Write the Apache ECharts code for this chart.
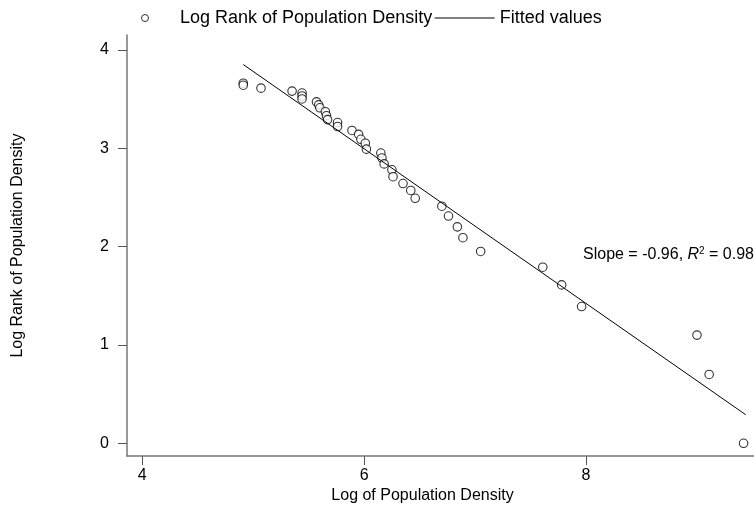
<!DOCTYPE html>
<html lang="en">
<head>
    <meta charset="UTF-8">
    <title>Log Rank vs Log Population Density</title>
    <script src="https://cdn.jsdelivr.net/npm/echarts@6/dist/echarts.min.js"></script>
    <style>
        html, body { margin: 0; padding: 0; background: #fff; }
        #chart { width: 754px; height: 509px; }
    </style>
</head>
<body>
    <div id="chart"></div>
    <script>
        // values
        const logDensity = [4.91, 4.91, 5.07, 5.35, 5.44, 5.44, 5.44, 5.57, 5.59, 5.60,
            5.65, 5.66, 5.67, 5.76, 5.76, 5.89, 5.95, 5.97, 6.01, 6.02,
            6.15, 6.16, 6.18, 6.25, 6.26, 6.35, 6.42, 6.46, 6.70, 6.76,
            6.84, 6.89, 7.05, 7.61, 7.78, 7.96, 9.00, 9.11, 9.42];
        const logRank = [3.66, 3.64, 3.61, 3.58, 3.56, 3.53, 3.50, 3.47, 3.44, 3.41,
            3.37, 3.33, 3.29, 3.26, 3.22, 3.18, 3.14, 3.09, 3.05, 2.99,
            2.95, 2.90, 2.84, 2.78, 2.71, 2.64, 2.57, 2.49, 2.41, 2.31,
            2.20, 2.09, 1.95, 1.79, 1.61, 1.39, 1.10, 0.70, 0.00];
        // fitted line end points
        const fitX = [4.91, 9.44];
        const fitY = [3.85, 0.29];
        const xTicks = [4, 6, 8];
        const yTicks = [0, 1, 2, 3, 4];

        const FONT = "'Liberation Sans', Arial, Helvetica, sans-serif";

        const chart = echarts.init(document.getElementById('chart'));

        const axisCommon = {
            type: 'value',
            nameLocation: 'middle',
            axisLine: { show: true, onZero: false, lineStyle: { color: '#777', width: 1.5 } },
            splitLine: { show: false }
        };

        const option = {
            animation: false,
            backgroundColor: '#fff',
            textStyle: { fontFamily: FONT },
            grid: { left: 127, right: 0, top: 35, bottom: 47 },
            legend: {
                left: 136,
                top: 4,
                itemWidth: 60,
                itemHeight: 7,
                itemGap: 2,
                textStyle: { fontFamily: FONT, fontSize: 18, color: '#000' },
                data: [
                    { name: 'Log Rank of Population Density', icon: 'circle',
                      itemStyle: { color: '#fff', borderColor: '#000', borderWidth: 1 } },
                    { name: 'Fitted values', itemStyle: { opacity: 0 },
                      lineStyle: { color: '#000', width: 1 } }
                ]
            },
            xAxis: Object.assign({}, axisCommon, {
                name: 'Log of Population Density',
                nameGap: 27,
                nameTextStyle: { fontFamily: FONT, fontSize: 16, color: '#000', padding: [0, 36, 0, 0] },
                min: 3.862,
                max: 9.514,
                axisTick: { show: true, length: 9, customValues: xTicks, lineStyle: { color: '#555' } },
                axisLabel: { customValues: xTicks, margin: 11, fontFamily: FONT, fontSize: 16, color: '#000' }
            }),
            yAxis: Object.assign({}, axisCommon, {
                name: 'Log Rank of Population Density',
                nameGap: 101,
                nameTextStyle: { fontFamily: FONT, fontSize: 16, color: '#000' },
                min: -0.13,
                max: 4.15,
                axisTick: { show: true, length: 9, customValues: yTicks, lineStyle: { color: '#555' } },
                axisLabel: { customValues: yTicks, margin: 18, fontFamily: FONT, fontSize: 16, color: '#000' }
            }),
            graphic: [{
                type: 'text',
                left: 583,
                top: 246,
                style: {
                    text: '{a|Slope = -0.96, }{i|R}{s|2}{a| = 0.98}',
                    rich: {
                        a: { fontFamily: FONT, fontSize: 16, lineHeight: 18, fill: '#000' },
                        i: { fontFamily: FONT, fontSize: 16, lineHeight: 18, fontStyle: 'italic', fill: '#000' },
                        s: { fontFamily: FONT, fontSize: 10, lineHeight: 18, verticalAlign: 'top', fill: '#000' }
                    }
                }
            }],
            series: [
                {
                    name: 'Log Rank of Population Density',
                    type: 'scatter',
                    symbol: 'circle',
                    symbolSize: 8.5,
                    itemStyle: { color: '#fff', borderColor: '#000', borderWidth: 1.1 },
                    data: logDensity.map((x, i) => [x, logRank[i]])
                },
                {
                    name: 'Fitted values',
                    type: 'line',
                    symbol: 'none',
                    itemStyle: { color: '#000' },
                    lineStyle: { color: '#000', width: 1 },
                    data: fitX.map((x, i) => [x, fitY[i]])
                }
            ]
        };

        chart.setOption(option);
    </script>
</body>
</html>
